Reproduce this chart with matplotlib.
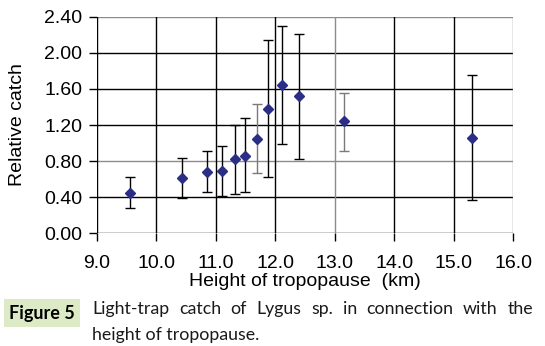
import matplotlib
matplotlib.use('Agg')
import matplotlib.pyplot as plt
import numpy as np

# tropopause height (km) vs relative catch, with error bar ends
height = [9.56, 10.44, 10.85, 11.10, 11.32, 11.50, 11.69, 11.87, 12.11, 12.40, 13.16, 15.31]
catch = [0.45, 0.61, 0.68, 0.69, 0.82, 0.86, 1.05, 1.38, 1.64, 1.52, 1.24, 1.06]
upper = [0.62, 0.83, 0.91, 0.97, 1.20, 1.28, 1.43, 2.14, 2.30, 2.21, 1.56, 1.75]
lower = [0.28, 0.39, 0.46, 0.41, 0.44, 0.46, 0.67, 0.62, 0.99, 0.82, 0.91, 0.37]
bar_gray = [False, False, False, False, False, False, True, False, False, False, True, False]

xticks = [9.0, 10.0, 11.0, 12.0, 13.0, 14.0, 15.0, 16.0]
yticks = [0.0, 0.4, 0.8, 1.2, 1.6, 2.0, 2.4]

caption_head = 'Figure 5'
caption_line1 = 'Light-trap catch of Lygus sp. in connection with the'
caption_line2 = 'height of tropopause.'

W, H = 545, 346
fig = plt.figure(figsize=(W / 100, H / 100), dpi=100)
ax = fig.add_axes([96.7 / W, 1 - 233.3 / H, (513.3 - 96.7) / W, (233.3 - 16.7) / H])

# grid, mostly black with a few lighter lines as in the scan
gray_y = [0.8, 2.4]
gray_x = [13.0, 16.0]
for v in yticks:
    ax.axhline(v, color='#8c8c8c' if v in gray_y else 'black', lw=1, zorder=1)
for v in xticks:
    ax.axvline(v, color='#8c8c8c' if v in gray_x else 'black', lw=1, zorder=1)

for x, y, hi, lo, g in zip(height, catch, upper, lower, bar_gray):
    ax.errorbar([x], [y], yerr=[[y - lo], [hi - y]], fmt='none',
                ecolor='#7a7a7a' if g else 'black', elinewidth=1,
                capsize=3.5, capthick=1, zorder=2)
ax.plot(height, catch, 'D', color='#2b2e85', ms=4.8, zorder=3)

ax.set_xlim(9.0, 16.0)
ax.set_ylim(0, 2.4)
ax.set_xticks(xticks)
ax.set_yticks(yticks)
ax.set_xticklabels(['%.1f' % v for v in xticks])
ax.set_yticklabels(['%.2f' % v for v in yticks])
for s in ax.spines.values():
    s.set_visible(False)
ax.tick_params(axis='both', direction='out', length=5.5, width=1, color='black',
               labelsize=14)
ax.tick_params(axis='x', pad=10)
ax.tick_params(axis='y', pad=5)
for lab in ax.get_xticklabels() + ax.get_yticklabels():
    lab.set_family('Liberation Sans')
ax.set_xlabel('Height of tropopause  (km)', family='Liberation Sans',
              fontsize=14, labelpad=1)
ax.set_ylabel('Relative catch', family='Liberation Sans', fontsize=14, labelpad=13)

# caption
fig.text(9 / W, 1 - 313 / H, caption_head, family='Lato', weight='bold',
         fontsize=13, va='center', ha='left',
         bbox=dict(boxstyle='square,pad=0.3', fc='#dcebc5', ec='none'))

# justified first line
words = caption_line1.split(' ')
x0, x1 = 92, 533
fig.canvas.draw()
r = fig.canvas.get_renderer()
texts = []
widths = []
for w in words:
    t = fig.text(0, 1 - 309 / H, w, family='Lato', fontsize=12.8, va='center', ha='left',
                 color='#1a1a1a')
    widths.append(t.get_window_extent(r).width)
    texts.append(t)
gap = (x1 - x0 - sum(widths)) / (len(words) - 1)
pos = x0
for t, w in zip(texts, widths):
    t.set_x(pos / W)
    pos += w + gap
fig.text(x0 / W, 1 - 335 / H, caption_line2, family='Lato', fontsize=12.8,
         va='center', ha='left', color='#1a1a1a')

fig.savefig('out.png', dpi=100)
